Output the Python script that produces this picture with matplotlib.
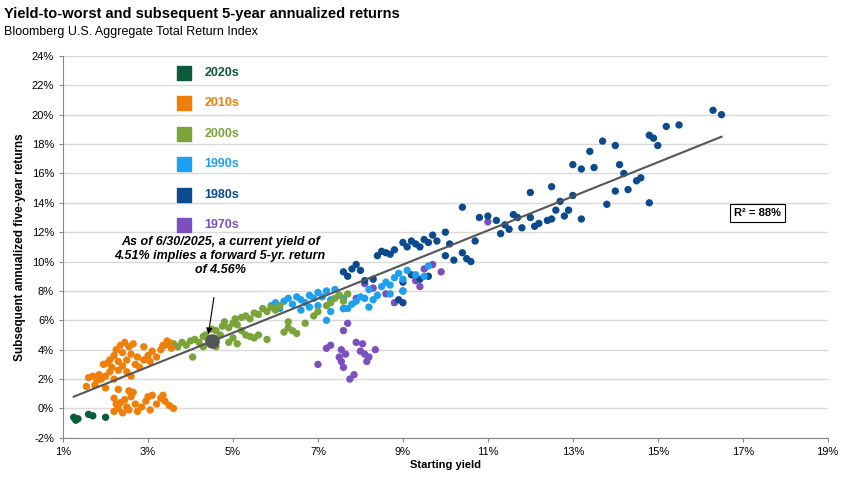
import numpy as np
import matplotlib

matplotlib.use("Agg")
import matplotlib.pyplot as plt
from matplotlib.ticker import FuncFormatter

# ── Data (starting yield %, subsequent 5-yr annualized return %) ─────────────

x_2020s = [1.25, 1.3, 1.35, 1.6, 1.7, 2.0]
y_2020s = [-0.6, -0.8, -0.7, -0.4, -0.5, -0.6]

x_2010s = [1.55, 1.6, 1.7, 1.8, 1.85, 1.9, 1.95, 2.0, 2.05, 2.1, 2.1, 2.15, 2.2, 2.2, 2.25,
           2.3, 2.3, 2.35, 2.4, 2.4, 2.45, 2.5, 2.5, 2.55, 2.6, 2.6, 2.65, 2.7, 2.75, 2.8,
           2.9, 3.0, 3.05, 3.1, 3.2, 3.3, 3.35, 3.5, 3.55, 3.45, 2.0, 2.3, 1.75, 2.9,
           2.2, 2.3, 2.35, 2.4, 2.45, 2.5, 2.55, 2.6, 2.65, 2.7, 2.75, 2.85, 2.95, 3.0,
           3.05, 3.1, 3.2, 3.3, 3.35, 3.4, 3.5, 3.6, 2.55, 2.2, 2.25]
y_2010s = [1.5, 2.1, 2.2, 1.9, 2.3, 2.0, 3.0, 2.2, 3.1, 2.5, 3.3, 2.8, 3.6, 2.0, 4.0,
           3.2, 2.6, 4.3, 3.8, 2.9, 4.5, 3.3, 2.5, 4.2, 3.7, 2.2, 4.4, 3.0, 3.5, 2.8,
           3.3, 3.6, 3.2, 3.9, 3.5, 4.0, 4.3, 4.5, 4.1, 4.6, 1.4, 1.3, 1.6, 4.2,
           -0.2, 0.0, 0.4, -0.3, 0.6, 0.1, -0.1, 0.8, 1.1, 0.3, -0.2, 0.1, 0.5, 0.8,
           -0.1, 0.9, 0.3, 0.7, 0.9, 0.5, 0.2, 0.0, 1.2, 0.7, 0.3]

x_2000s = [3.4, 3.6, 3.7, 3.8, 3.9, 4.0, 4.05, 4.1, 4.2, 4.3, 4.35, 4.4, 4.5, 4.6, 4.7,
           4.75, 4.8, 4.9, 5.0, 5.05, 5.1, 5.2, 5.3, 5.4, 5.5, 5.6, 5.7, 5.8, 5.9, 6.0,
           4.6, 4.9, 5.0, 5.1, 5.3, 5.4, 5.5, 5.6, 5.8, 6.2, 6.3, 6.4, 6.5, 6.7, 6.9,
           7.0, 7.2, 7.3, 7.4, 7.5, 7.6, 7.7, 6.1, 6.3, 5.2, 4.3]
y_2000s = [4.3, 4.4, 4.2, 4.5, 4.3, 4.6, 3.5, 4.7, 4.5, 4.9, 5.0, 4.8, 5.4, 5.3, 5.0,
           5.6, 5.9, 5.5, 5.8, 6.1, 5.7, 6.2, 6.3, 6.1, 6.5, 6.4, 6.8, 6.6, 6.9, 6.7,
           4.2, 4.5, 4.8, 4.4, 5.0, 4.9, 4.8, 5.0, 4.7, 5.2, 5.5, 5.3, 5.1, 5.8, 6.3,
           6.6, 7.0, 7.2, 7.5, 7.7, 7.3, 7.8, 7.0, 5.9, 5.3, 4.2]

x_1990s = [5.9, 6.0, 6.1, 6.2, 6.3, 6.4, 6.5, 6.6, 6.7, 6.8, 6.9, 7.0, 7.1, 7.2, 7.3,
           7.4, 6.6, 6.8, 7.0, 7.3, 7.6, 7.2, 7.5, 7.6, 7.7, 7.8, 8.0, 8.1, 8.2, 8.3,
           8.4, 8.5, 8.6, 8.7, 8.8, 8.9, 9.0, 9.1, 9.3, 9.5, 9.6, 9.0, 8.7, 8.2, 7.9]
y_1990s = [7.0, 7.2, 6.8, 7.3, 7.5, 7.1, 7.6, 7.4, 7.2, 7.7, 7.5, 7.9, 7.6, 8.0, 7.4,
           8.1, 6.7, 6.9, 7.0, 6.6, 6.8, 6.0, 7.7, 7.5, 6.8, 7.1, 7.6, 7.5, 6.9, 7.4,
           7.7, 8.3, 8.6, 8.4, 8.9, 9.2, 8.8, 9.4, 9.1, 9.0, 9.7, 8.0, 7.8, 8.1, 7.3]

x_1980s = [7.6, 7.7, 7.8, 7.9, 8.0, 8.1, 8.3, 8.4, 8.5, 8.6, 8.7, 8.8, 9.0, 9.1, 9.2,
           9.3, 9.4, 9.5, 9.6, 9.7, 9.8, 10.0, 10.1, 9.2, 9.0, 8.9, 9.0, 9.4, 9.6, 10.0,
           10.2, 10.4, 10.5, 10.6, 10.7, 10.8, 11.0, 11.2, 11.3, 11.4, 11.5, 11.6, 11.7,
           11.8, 12.0, 12.1, 12.2, 12.4, 12.5, 12.6, 12.7, 12.8, 12.9, 13.0, 13.2, 13.4,
           13.5, 13.7, 14.0, 14.1, 14.2, 14.3, 14.5, 14.6, 14.8, 14.9, 15.0, 15.2, 15.5,
           13.8, 14.0, 13.2, 13.0, 16.3, 16.5, 14.8, 12.0, 12.5, 10.4]
y_1980s = [9.3, 9.0, 9.5, 9.8, 9.4, 8.7, 8.8, 10.4, 10.7, 10.6, 10.5, 10.8, 11.3, 11.0,
           11.4, 11.2, 11.0, 11.5, 11.3, 11.8, 11.4, 12.0, 11.2, 9.1, 8.6, 7.4, 7.2, 8.8,
           9.0, 10.4, 10.1, 10.6, 10.2, 10.0, 11.4, 13.0, 13.1, 12.8, 11.9, 12.5, 12.2,
           13.2, 13.0, 12.3, 13.0, 12.4, 12.6, 12.8, 12.9, 13.5, 14.1, 13.1, 13.5, 16.6,
           16.3, 17.5, 16.4, 18.2, 17.9, 16.6, 16.0, 14.9, 15.5, 15.7, 18.6, 18.4, 17.9,
           19.2, 19.3, 13.9, 14.8, 12.9, 14.5, 20.3, 20.0, 14.0, 14.7, 15.1, 13.7]

x_1970s = [7.0, 7.2, 7.3, 7.5, 7.55, 7.6, 7.65, 7.7, 7.55, 7.6, 7.75, 7.85, 8.0, 8.05,
           8.1, 8.15, 8.2, 8.35, 7.9, 7.6, 7.9, 8.1, 8.3, 8.6, 8.8, 9.0, 9.3, 9.5, 9.7,
           9.9, 11.0, 9.4]
y_1970s = [3.0, 4.1, 4.3, 3.5, 4.0, 5.3, 3.7, 5.8, 3.2, 2.8, 2.0, 2.3, 3.9, 4.4, 3.7,
           3.2, 3.5, 4.0, 4.5, 6.8, 7.5, 8.5, 8.2, 7.8, 7.2, 8.0, 8.7, 9.5, 9.8, 9.3,
           12.7, 8.3]

current_yield = 4.51
current_return = 4.56
fit_x = [1.25, 16.5]
fit_y = [0.8, 18.5]

decades = ["2020s", "2010s", "2000s", "1990s", "1980s", "1970s"]
colors = ["#0b5a3a", "#f07f09", "#7aa43a", "#1ea0f0", "#0b4a8c", "#7b4fc0"]
series = [(x_2020s, y_2020s), (x_2010s, y_2010s), (x_2000s, y_2000s),
          (x_1990s, y_1990s), (x_1980s, y_1980s), (x_1970s, y_1970s)]

# ── Plot ─────────────────────────────────────────────────────────────────────

plt.rcParams["font.family"] = "Liberation Sans"
fig = plt.figure(figsize=(8.64, 4.78), dpi=100)
ax = fig.add_axes([0.073, 0.084, 0.885, 0.799])

# draw oldest first so newer decades sit on top
for (xs, ys), c in reversed(list(zip(series, colors))):
    ax.scatter(xs, ys, s=28, color=c, edgecolors="none", zorder=3)

ax.plot(fit_x, fit_y, color="#555555", lw=1.5, zorder=4)
ax.scatter([current_yield], [current_return], s=90, color="#555555", zorder=5)

ax.annotate("As of 6/30/2025, a current yield of\n4.51% implies a forward 5-yr. return\nof 4.56%",
            xy=(current_yield - 0.1, current_return + 0.3), xytext=(4.7, 10.4),
            ha="center", va="center", fontsize=9, fontweight="bold", fontstyle="italic",
            arrowprops=dict(arrowstyle="-|>", color="black", lw=0.8, shrinkA=14),
            zorder=6)

ax.text(17.35, 13.3, "R² = 88%", ha="center", va="center", fontsize=8, fontweight="bold",
        bbox=dict(boxstyle="square,pad=0.35", fc="white", ec="black", lw=0.8))

# legend as coloured squares with coloured labels
for i, (d, c) in enumerate(zip(decades, colors)):
    yy = 0.955 - i * 0.0795
    ax.scatter([0.158], [yy], marker="s", s=110, color=c, transform=ax.transAxes,
               clip_on=False, zorder=6)
    ax.text(0.185, yy, d, transform=ax.transAxes, color=c, fontsize=9,
            fontweight="bold", va="center")

ax.set_xlim(1, 19)
ax.set_ylim(-2, 24)
ax.set_xticks(np.arange(1, 20, 2))
ax.set_yticks(np.arange(-2, 25, 2))
ax.xaxis.set_major_formatter(FuncFormatter(lambda v, p: f"{v:.0f}%"))
ax.yaxis.set_major_formatter(FuncFormatter(lambda v, p: f"{v:.0f}%"))
ax.tick_params(labelsize=8, length=3, color="#888888")
ax.grid(axis="y", color="#d9d9d9", lw=1)
ax.set_axisbelow(True)
for s in ["top", "right"]:
    ax.spines[s].set_visible(False)
ax.spines["left"].set_color("#888888")
ax.spines["bottom"].set_color("#888888")

ax.set_xlabel("Starting yield", fontsize=8, fontweight="bold", labelpad=2)
ax.set_ylabel("Subsequent annualized five-year returns", fontsize=8.5, fontweight="bold")

fig.text(0.005, 0.97, "Yield-to-worst and subsequent 5-year annualized returns",
         fontsize=10.5, fontweight="bold", va="center")
fig.text(0.005, 0.933, "Bloomberg U.S. Aggregate Total Return Index", fontsize=9, va="center")

fig.savefig("out.png", dpi=100)
